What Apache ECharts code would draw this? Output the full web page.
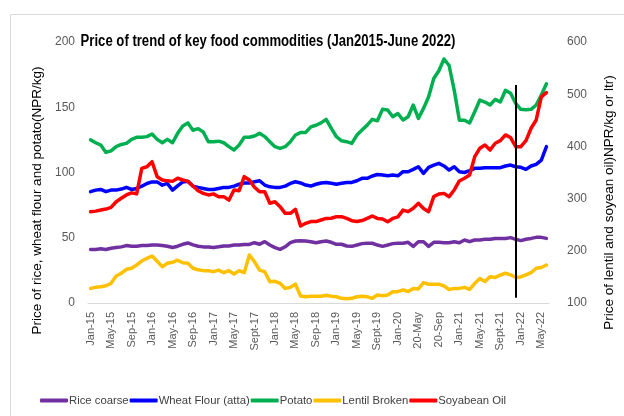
<!DOCTYPE html>
<html>
<head>
<meta charset="utf-8">
<script src="https://cdn.jsdelivr.net/npm/echarts@6/dist/echarts.min.js"></script>
<style>
  html, body { margin: 0; padding: 0; background: #fff; }
  #main { width: 624px; height: 416px; }
</style>
</head>
<body>
<div id="main"></div>
<script>
var months = [
  'Jan-15','Feb-15','Mar-15','Apr-15','May-15','Jun-15','Jul-15','Aug-15','Sep-15','Oct-15','Nov-15','Dec-15',
  'Jan-16','Feb-16','Mar-16','Apr-16','May-16','Jun-16','Jul-16','Aug-16','Sep-16','Oct-16','Nov-16','Dec-16',
  'Jan-17','Feb-17','Mar-17','Apr-17','May-17','Jun-17','Jul-17','Aug-17','Sept-17','Oct-17','Nov-17','Dec-17',
  'Jan-18','Feb-18','Mar-18','Apr-18','May-18','Jun-18','Jul-18','Aug-18','Sep-18','Oct-18','Nov-18','Dec-18',
  'Jan-19','Feb-19','Mar-19','Apr-19','May-19','Jun-19','Jul-19','Aug-19','Sept-19','Oct-19','Nov-19','Dec-19',
  'Jan-20','Feb-20','Mar-20','Apr-20','20-May','20-Jun','20-Jul','20-Aug','20-Sep','20-Oct','20-Nov','20-Dec',
  'Jan-21','Feb-21','Mar-21','Apr-21','May-21','Jun-21','Jul-21','Aug-21','Sept-21','Oct-21','Nov-21','Dec-21',
  'Jan-22','Feb-22','Mar-22','Apr-22','May-22','Jun-22'
];

// left axis (NPR/kg)
var rice = [
  41, 41, 41.5, 41, 42, 42.5, 43, 44, 43.5, 43.5, 44, 44,
  44.5, 44.5, 44, 43.5, 42.5, 43.5, 45, 46, 44.5, 43.5, 43, 43,
  42.6, 43.1, 43.7, 43.7, 44.4, 44.4, 44.9, 44.9, 46.2, 45, 47, 44.4,
  42.4, 41.1, 43.1, 46.2, 47.5, 47.7, 47.5, 47, 46.2, 47, 47.5, 46.5,
  45, 45, 43.7, 43.4, 44.4, 45.5, 45.8, 45.8, 44.4, 43.4, 44.4, 45.5,
  45.8, 45.8, 46.5, 43.4, 47, 47, 43.4, 46.5, 46.5, 46.2, 46.2, 47,
  46.2, 48.3, 47, 48.3, 48.3, 48.8, 48.8, 49.5, 49.5, 49.5, 50.1, 48.8,
  47.8, 48.8, 49.5, 50.3, 50.3, 49.5
];
var wheat = [
  85.3, 86.5, 87, 85.3, 86.5, 86.5, 87.3, 88.6, 87, 87.8, 89.5, 91.6,
  92.8, 92.8, 90.3, 91.6, 86.5, 89.8, 92.8, 93.3, 89.5, 88.6, 87.8, 87,
  87, 87.8, 88.6, 88.6, 89.6, 91, 92, 92, 92.9, 93.7, 90.4, 89,
  88.6, 88.6, 89.6, 91.6, 92.9, 92, 90.4, 89.6, 91, 92, 92.3, 91.7,
  91, 91.7, 92.4, 92.4, 93.7, 95.5, 95.5, 97.3, 98.5, 98, 97.5, 98,
  97.5, 100.6, 100.6, 102.4, 104.4, 99.3, 104, 105.7, 107, 105, 101.9, 104.4,
  100.6, 100, 101.5, 103.2, 103.2, 103.7, 103.7, 103.7, 103.7, 105, 105.7, 104.4,
  104, 102.4, 105, 106.2, 109.5, 119.8
];
var potato = [
  125, 122.8, 121, 115.4, 116.6, 119.8, 121.5, 122.3, 125.4, 127, 127, 127.5,
  129.5, 125.4, 122.8, 125.4, 122.8, 130, 135.6, 138, 132.4, 133.6, 131, 123.6,
  123.6, 124, 122.8, 119.8, 117.2, 121, 127, 127, 128, 130, 127.5, 123.6,
  119.8, 118.5, 119.8, 123.6, 128.7, 130.7, 130.7, 135, 136.2, 138, 140.7, 133.8,
  127.4, 124.3, 123.6, 122.3, 128.7, 132.5, 136.3, 140.7, 139.6, 148.4, 147.9, 142.7,
  145.2, 140.2, 142.7, 151.7, 141.5, 149.1, 158, 172, 178, 187, 182, 163,
  140, 140, 138, 146.5, 155.5, 154, 151.7, 156, 154, 163, 160.7, 153,
  148.4, 148, 148.4, 151.7, 159.4, 168
];
// right axis (NPR/kg or ltr)
var lentil = [
  128, 130, 131, 133, 137.7, 151.7, 157, 164.5, 166.5, 172.8, 180.5, 185.6,
  190, 180, 169.6, 176, 178, 182, 177, 176, 166.5, 163.5, 162, 162,
  160, 163, 158, 162, 155.6, 162, 158, 192, 179, 163, 160, 140.8,
  141.5, 137.7, 128, 130, 136, 113.4, 112, 113, 113, 113, 115, 113,
  112, 109, 108, 109, 112, 113, 112, 109, 115.3, 114, 115.3, 121.7,
  121.7, 125, 122, 128, 127, 139, 136, 136, 136, 132.6, 126, 128,
  128, 130, 126, 137.7, 147, 141, 150.4, 149, 153.7, 157, 154, 149,
  150, 154, 158, 166.5, 168, 172.8
];
var soyOil = [
  275, 276, 278, 280, 283.3, 294, 300.6, 307, 311, 309, 358, 361,
  370.7, 342, 335.7, 334, 333, 339, 335.7, 333, 324, 315, 310, 307,
  309, 303.7, 303.7, 297, 316.5, 315, 342, 335.7, 321.7, 313, 313, 291,
  294, 284.5, 271.8, 271.8, 279.5, 247.5, 252.7, 256, 256, 259, 262, 262.3,
  265.4, 265.4, 262, 257.7, 256, 258, 262, 266.7, 262, 261, 255.8, 262,
  265, 278, 275, 281.4, 291, 281, 275, 303.7, 308.8, 310, 303.7, 316.5,
  333.8, 339, 345.2, 380.3, 396.4, 402.7, 393, 406, 411, 422, 417, 399.5,
  399.5, 411, 434.7, 450.6, 495, 503
];

var markMonth = 'Dec-21';
var markRange = [167, 4];

var font = '"Liberation Sans", Arial, sans-serif';
var grey = '#595959';

var chart = echarts.init(document.getElementById('main'));

function line(name, data, color, axis, extra) {
  var s = {
    name: name,
    type: 'line',
    yAxisIndex: axis,
    data: data,
    showSymbol: false,
    symbol: 'none',
    lineStyle: { color: color, width: 3.5, cap: 'round', join: 'round' },
    itemStyle: { color: color },
    animation: false
  };
  if (extra) s.markLine = extra;
  return s;
}

var option = {
  animation: false,
  graphic: [{
    type: 'rect',
    left: 8, top: 12,
    shape: { width: 1000, height: 1000 },
    style: { fill: 'none', stroke: '#d9d9d9', lineWidth: 1 },
    silent: true
  }, {
    // title, squeezed a bit to get the narrow look of the original
    type: 'text',
    x: 268, y: 42,
    scaleX: 0.82,
    silent: true,
    style: {
      text: 'Price of trend of key food commodities (Jan2015-June 2022)',
      font: 'bold 16px "Liberation Sans", Arial, sans-serif',
      fill: '#000',
      textAlign: 'center',
      textVerticalAlign: 'middle'
    }
  }],
  legend: {
    top: 390,
    left: 35,
    icon: 'roundRect',
    itemWidth: 28,
    itemHeight: 4,
    itemGap: 1,
    textStyle: { fontFamily: font, fontSize: 11.3, color: '#404040', padding: [0, 0, 0, -4] },
    data: ['Rice coarse', 'Wheat Flour (atta)', 'Potato', 'Lentil Broken', 'Soyabean Oil']
  },
  grid: { left: 88, right: 68, top: 42, bottom: 113 },
  xAxis: {
    type: 'category',
    data: months,
    boundaryGap: true,
    axisLine: { lineStyle: { color: '#d9d9d9', width: 1 } },
    axisTick: { show: false },
    axisLabel: {
      interval: 3,
      rotate: 90,
      color: grey,
      fontFamily: font,
      fontSize: 11,
      margin: 9
    },
    splitLine: { show: false }
  },
  yAxis: [{
    type: 'value',
    min: 0, max: 200, interval: 50,
    name: 'Price of rice, wheat flour and potato(NPR/kg)',
    nameLocation: 'middle',
    nameRotate: 90,
    nameGap: 35,
    nameTextStyle: { fontFamily: font, fontSize: 13.5, color: '#000', padding: [0, 56, 0, 0] },
    axisLine: { show: false },
    axisTick: { show: false },
    splitLine: { show: false },
    axisLabel: { color: grey, fontFamily: font, fontSize: 12, margin: 13 }
  }, {
    type: 'value',
    min: 100, max: 600, interval: 100,
    name: 'Price of lentil and soyean oil)NPR/kg or ltr)',
    nameLocation: 'middle',
    nameRotate: 90,
    nameGap: 53,
    nameTextStyle: { fontFamily: font, fontSize: 13.5, color: '#000', padding: [0, 60, 0, 0] },
    axisLine: { show: false },
    axisTick: { show: false },
    splitLine: { show: false },
    axisLabel: { color: grey, fontFamily: font, fontSize: 12, margin: 18 }
  }],
  series: [
    line('Rice coarse', rice, '#7030A0', 0, {
      silent: true,
      symbol: ['none', 'none'],
      label: { show: false },
      lineStyle: { color: '#000', width: 2, type: 'solid' },
      data: [[{ xAxis: markMonth, yAxis: markRange[0] }, { xAxis: markMonth, yAxis: markRange[1] }]]
    }),
    line('Wheat Flour (atta)', wheat, '#0000FF', 0),
    line('Potato', potato, '#00B050', 0),
    line('Lentil Broken', lentil, '#FFC000', 1),
    line('Soyabean Oil', soyOil, '#FF0000', 1)
  ]
};

chart.setOption(option);
</script>
</body>
</html>
